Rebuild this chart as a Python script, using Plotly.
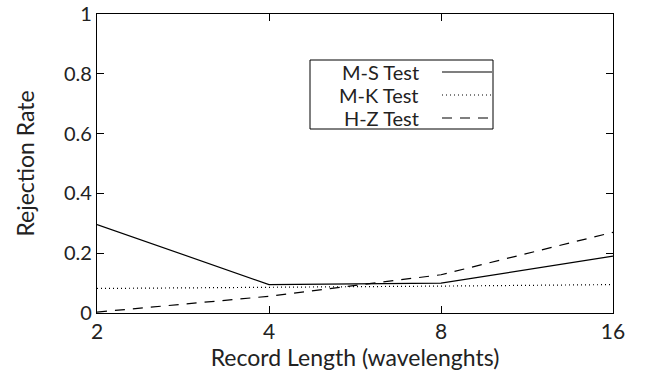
import plotly.graph_objects as go

record_length = [2, 4, 8, 16]
ms_test = [0.296, 0.095, 0.100, 0.190]
mk_test = [0.082, 0.085, 0.090, 0.095]
hz_test = [0.003, 0.056, 0.128, 0.270]
series_names = ["M-S Test", "M-K Test", "H-Z Test"]
dashes = ["solid", "1px,3px", "10px,8px"]

FONT = "Lato, DejaVu Sans, sans-serif"
fig = go.Figure()
for name, ys, d in zip(series_names, [ms_test, mk_test, hz_test], dashes):
    fig.add_trace(go.Scatter(x=record_length, y=ys, mode="lines", name=name,
                             line=dict(color="black", width=1.2, dash=d), showlegend=False))

box_x0, box_x1 = 310, 493
box_y0, box_y1 = 60, 129
W, H = 647, 379
l, r, t, b = 97, 34, 14, 66
pw, ph = W - l - r, H - t - b
def px(x): return (x - l) / pw
def py(y): return 1 - (y - t) / ph

fig.add_shape(type="rect", xref="paper", yref="paper",
              x0=px(box_x0), x1=px(box_x1), y0=py(box_y1), y1=py(box_y0),
              line=dict(color="black", width=1), fillcolor="white", layer="above")
row_y = [72, 95, 118]
for name, d, yy in zip(series_names, dashes, row_y):
    fig.add_annotation(xref="paper", yref="paper", x=px(421), y=py(yy), text=name,
                       showarrow=False, xanchor="right", yanchor="middle",
                       font=dict(family=FONT, size=20, color="#222"))
    fig.add_shape(type="line", xref="paper", yref="paper", x0=px(442), x1=px(492),
                  y0=py(yy), y1=py(yy), line=dict(color="black", width=1.2, dash=d), layer="above")

fig.update_layout(
    width=W, height=H, margin=dict(l=l, r=r, t=t, b=b),
    paper_bgcolor="white", plot_bgcolor="white",
    font=dict(family=FONT, size=21, color="#222"),
)
fig.update_xaxes(type="log", range=[0.30103, 1.20412], tickvals=record_length,
                 ticktext=[str(v) for v in record_length],
                 ticks="inside", ticklen=7, tickcolor="black", mirror="ticks",
                 showline=True, linecolor="black", linewidth=1.2, showgrid=False, zeroline=False,
                 tickfont=dict(size=21), ticklabeloverflow="allow", automargin=False,
                 title=dict(text="Record Length (wavelenghts)", standoff=2, font=dict(size=23)))
fig.update_yaxes(range=[0, 1], tickvals=[0, 0.2, 0.4, 0.6, 0.8, 1],
                 ticktext=["0", "0.2", "0.4", "0.6", "0.8", "1"],
                 ticks="inside", ticklen=7, tickcolor="black", mirror="ticks",
                 showline=True, linecolor="black", linewidth=1.2, showgrid=False, zeroline=False,
                 tickfont=dict(size=20), ticklabeloverflow="allow", automargin=False,
                 title=dict(text="Rejection Rate", standoff=22, font=dict(size=23)))
fig.write_html("out.html")
